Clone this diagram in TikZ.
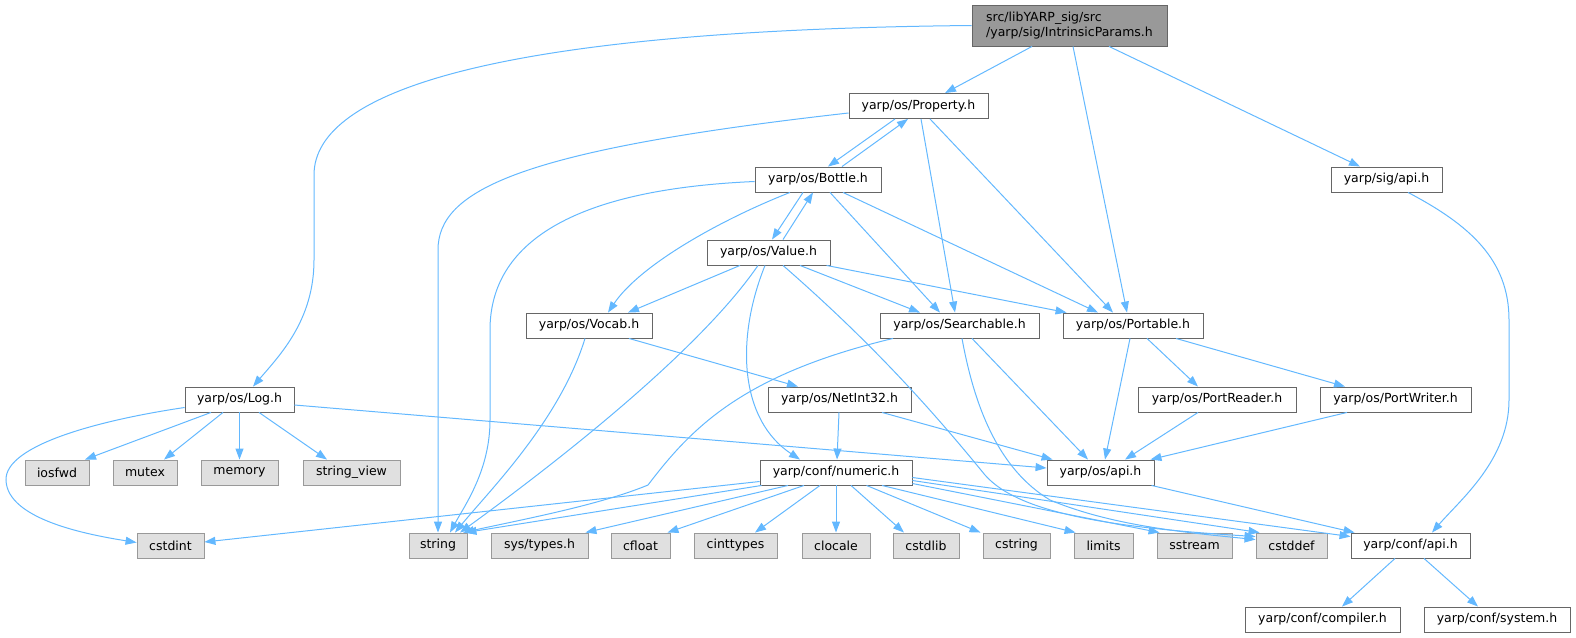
\documentclass[tikz,border=0pt]{standalone}
\usepackage{fontspec}
\setmainfont{DejaVu Sans}
\usetikzlibrary{arrows.meta}
\definecolor{edgec}{HTML}{63B8FF}
\definecolor{bdark}{HTML}{666666}
\definecolor{blight}{HTML}{999999}
\definecolor{fsys}{HTML}{E0E0E0}
\definecolor{froot}{HTML}{999999}
\begin{document}
\begin{tikzpicture}[x=1pt,y=-1pt,
  every node/.style={font=\fontsize{12.5}{15}\selectfont},
  hdr/.style={draw=bdark, line width=0.9pt, fill=white, rectangle, minimum height=25pt, inner sep=0pt},
  sys/.style={draw=blight, line width=0.9pt, fill=fsys, rectangle, minimum height=25pt, inner sep=0pt},
  rootbox/.style={draw=bdark, line width=0.9pt, fill=froot, rectangle, minimum height=41pt, minimum width=195pt, inner sep=0pt, align=left},
  dep/.style={draw=edgec, line width=1pt, -{Triangle[length=11pt,width=8pt]}},
]
\useasboundingbox (0,0) rectangle (1576,637);
% nodes
\node[rootbox] (root) at (1069.5,25.5) {src/libYARP\_sig/src\\/yarp/sig/IntrinsicParams.h};
\node[hdr, minimum width=139pt] (prop) at (918.5,106) {yarp/os/Property.h};
\node[hdr, minimum width=126pt] (bottle) at (818,179.5) {yarp/os/Bottle.h};
\node[hdr, minimum width=111pt] (sigapi) at (1386.5,179.5) {yarp/sig/api.h};
\node[hdr, minimum width=123pt] (value) at (768.5,252.5) {yarp/os/Value.h};
\node[hdr, minimum width=126pt] (vocab) at (589,325.5) {yarp/os/Vocab.h};
\node[hdr, minimum width=159pt] (search) at (959.5,325.5) {yarp/os/Searchable.h};
\node[hdr, minimum width=140pt] (portable) at (1133,325.5) {yarp/os/Portable.h};
\node[hdr, minimum width=109pt] (log) at (239.5,399.5) {yarp/os/Log.h};
\node[hdr, minimum width=143pt] (netint) at (839.5,399.5) {yarp/os/NetInt32.h};
\node[hdr, minimum width=158pt] (preader) at (1217,399.5) {yarp/os/PortReader.h};
\node[hdr, minimum width=151pt] (pwriter) at (1395.5,399.5) {yarp/os/PortWriter.h};
\node[sys, minimum width=64pt] (iosfwd) at (57,472.5) {iosfwd};
\node[sys, minimum width=64pt] (mutex) at (145,472.5) {mutex};
\node[sys, minimum width=77pt] (memory) at (239.5,472.5) {memory};
\node[sys, minimum width=97pt] (strview) at (351.5,472.5) {string\_view};
\node[hdr, minimum width=152pt] (numeric) at (836,472.5) {yarp/conf/numeric.h};
\node[hdr, minimum width=107pt] (osapi) at (1100.5,472.5) {yarp/os/api.h};
\node[sys, minimum width=67pt] (cstdint) at (170.5,545.5) {cstdint};
\node[sys, minimum width=58pt] (string) at (438,545.5) {string};
\node[sys, minimum width=97pt] (systypes) at (539.5,545.5) {sys/types.h};
\node[sys, minimum width=59pt] (cfloat) at (640.5,545.5) {cfloat};
\node[sys, minimum width=83pt] (cinttypes) at (735.5,545.5) {cinttypes};
\node[sys, minimum width=68pt] (clocale) at (836,545.5) {clocale};
\node[sys, minimum width=66pt] (cstdlib) at (926,545.5) {cstdlib};
\node[sys, minimum width=67pt] (cstring) at (1016.5,545.5) {cstring};
\node[sys, minimum width=59pt] (limits) at (1103.5,545.5) {limits};
\node[sys, minimum width=75pt] (sstream) at (1194.5,545.5) {sstream};
\node[sys, minimum width=71pt] (cstddef) at (1291.5,545.5) {cstddef};
\node[hdr, minimum width=119pt] (confapi) at (1410.5,545.5) {yarp/conf/api.h};
\node[hdr, minimum width=155pt] (compiler) at (1322.5,619.5) {yarp/conf/compiler.h};
\node[hdr, minimum width=146pt] (system) at (1497,619.5) {yarp/conf/system.h};
% edges
\draw[dep] ([xshift=-37.5pt]root.south) -- ([xshift=26.5pt]prop.north);
\draw[dep] ([xshift=3.5pt]root.south) -- ([xshift=-6pt]portable.north);
\draw[dep] ([xshift=39.5pt]root.south) -- ([xshift=-26.5pt]sigapi.north);
\draw[dep] (root.west) .. controls (500,30) and (314,90) .. (314,175) -- (314,260) .. controls (314,320) and (280,355) .. ([xshift=13.5pt]log.north);
\draw[dep] ([yshift=-7pt]prop.west) .. controls (520,150) and (438,190) .. (438,250) -- (string.north);
\draw[dep] ([yshift=-2pt]bottle.west) .. controls (560,190) and (490,250) .. (490,330) -- (490,420) .. controls (490,470) and (465,505) .. ([xshift=12pt]string.north);
\draw[dep] ([xshift=-23.5pt]prop.south) -- ([xshift=10pt]bottle.north);
\draw[dep] ([xshift=24pt]bottle.north) -- ([xshift=-10.5pt]prop.south);
\draw[dep] ([xshift=2.5pt]prop.south) -- ([xshift=-4.5pt]search.north);
\draw[dep] ([xshift=11.5pt]prop.south) -- ([xshift=-20pt]portable.north);
\draw[dep] ([xshift=-15pt]bottle.south) -- ([xshift=3.5pt]value.north);
\draw[dep] ([xshift=14.5pt]value.north) -- ([xshift=-5pt]bottle.south);
\draw[dep] ([xshift=-28pt]bottle.south) .. controls (720,220) and (640,265) .. ([xshift=19pt]vocab.north);
\draw[dep] ([xshift=12pt]bottle.south) -- ([xshift=-19.5pt]search.north);
\draw[dep] ([xshift=25pt]bottle.south) -- ([xshift=-35pt]portable.north);
\draw[dep] ([xshift=-28.5pt]value.south) -- ([xshift=39pt]vocab.north);
\draw[dep] ([xshift=-10.5pt]value.south) .. controls (700,350) and (560,460) .. ([xshift=22pt]string.north);
\draw[dep] ([xshift=-3.5pt]value.south) .. controls (735,340) and (740,420) .. ([xshift=-36pt]numeric.north);
\draw[dep] ([xshift=14.5pt]value.south) .. controls (880,350) and (940,420) .. (985,475) .. controls (1020,515) and (1120,528) .. ([yshift=-4pt]cstddef.north west);
\draw[dep] ([xshift=31.5pt]value.south) -- ([xshift=-39.5pt]search.north);
\draw[dep] ([xshift=58pt]value.south) -- ([xshift=4pt]portable.north west);
\draw[dep] ([xshift=-4pt]vocab.south) .. controls (560,420) and (490,490) .. ([xshift=17pt]string.north);
\draw[dep] ([xshift=40pt]vocab.south) -- ([xshift=-41.5pt]netint.north);
\draw[dep] ([xshift=-66.5pt]search.south) .. controls (740,375) and (690,430) .. (648,485) .. controls (600,505) and (520,520) .. ([xshift=25pt]string.north);
\draw[dep] ([xshift=2.5pt]search.south) .. controls (975,410) and (1000,470) .. (1050,500) .. controls (1110,525) and (1180,532) .. ([yshift=-7pt]cstddef.north west);
\draw[dep] ([xshift=12.5pt]search.south) -- ([xshift=-12.5pt]osapi.north);
\draw[dep] ([xshift=-3pt]portable.south) -- ([xshift=4.5pt]osapi.north);
\draw[dep] ([xshift=14pt]portable.south) -- ([xshift=-19pt]preader.north);
\draw[dep] ([xshift=43pt]portable.south) -- ([xshift=-50.5pt]pwriter.north);
\draw[dep] ([xshift=-19pt]preader.south) -- ([xshift=24.5pt]osapi.north);
\draw[dep] ([xshift=-48.5pt]pwriter.south) -- ([xshift=-4pt]osapi.north east);
\draw[dep] ([xshift=-0.5pt]netint.south) -- ([xshift=1pt]numeric.north);
\draw[dep] ([xshift=42.5pt]netint.south) -- ([xshift=6pt]osapi.north west);
\draw[dep] ([yshift=-5.5pt]log.east) -- ([yshift=4.5pt]osapi.west);
\draw[dep] ([yshift=-8pt]log.west) .. controls (100,420) and (5,445) .. (6,480) .. controls (7,520) and (90,535) .. ([yshift=3pt]cstdint.west);
\draw[dep] ([xshift=-28.5pt]log.south) -- ([xshift=28pt]iosfwd.north);
\draw[dep] ([xshift=-16.5pt]log.south) -- ([xshift=19pt]mutex.north);
\draw[dep] (log.south) -- (memory.north);
\draw[dep] ([xshift=19.5pt]log.south) -- ([xshift=-24.5pt]strview.north);
\draw[dep] ([yshift=-9pt]numeric.west) -- ([yshift=3.5pt]cstdint.east);
\draw[dep] ([xshift=2pt]numeric.south west) -- ([xshift=-2pt]string.north east);
\draw[dep] ([xshift=-48pt]numeric.south) -- ([xshift=-3pt]systypes.north east);
\draw[dep] ([xshift=-32pt]numeric.south) -- ([xshift=-3pt]cfloat.north east);
\draw[dep] ([xshift=-16pt]numeric.south) -- ([xshift=19.5pt]cinttypes.north);
\draw[dep] (numeric.south) -- (clocale.north);
\draw[dep] ([xshift=15pt]numeric.south) -- ([xshift=-22pt]cstdlib.north);
\draw[dep] ([xshift=30.5pt]numeric.south) -- ([xshift=-36pt]cstring.north);
\draw[dep] ([xshift=46pt]numeric.south) -- ([xshift=2pt]limits.north west);
\draw[dep] ([yshift=-11pt]numeric.east) -- ([xshift=3pt]sstream.north west);
\draw[dep] ([yshift=-8pt]numeric.east) -- ([xshift=4pt]cstddef.north west);
\draw[dep] ([yshift=-5pt]numeric.east) -- ([yshift=-4pt]confapi.north west);
\draw[dep] ([xshift=51pt]osapi.south) -- ([xshift=4pt]confapi.north west);
\draw[dep] ([xshift=21.5pt]sigapi.south) .. controls (1470,225) and (1509,260) .. (1509,320) -- (1509,400) .. controls (1509,460) and (1460,500) .. ([xshift=21.5pt]confapi.north);
\draw[dep] ([xshift=-15.5pt]confapi.south) -- ([xshift=19.5pt]compiler.north);
\draw[dep] ([xshift=13.5pt]confapi.south) -- ([xshift=-19pt]system.north);
\end{tikzpicture}
\end{document}
